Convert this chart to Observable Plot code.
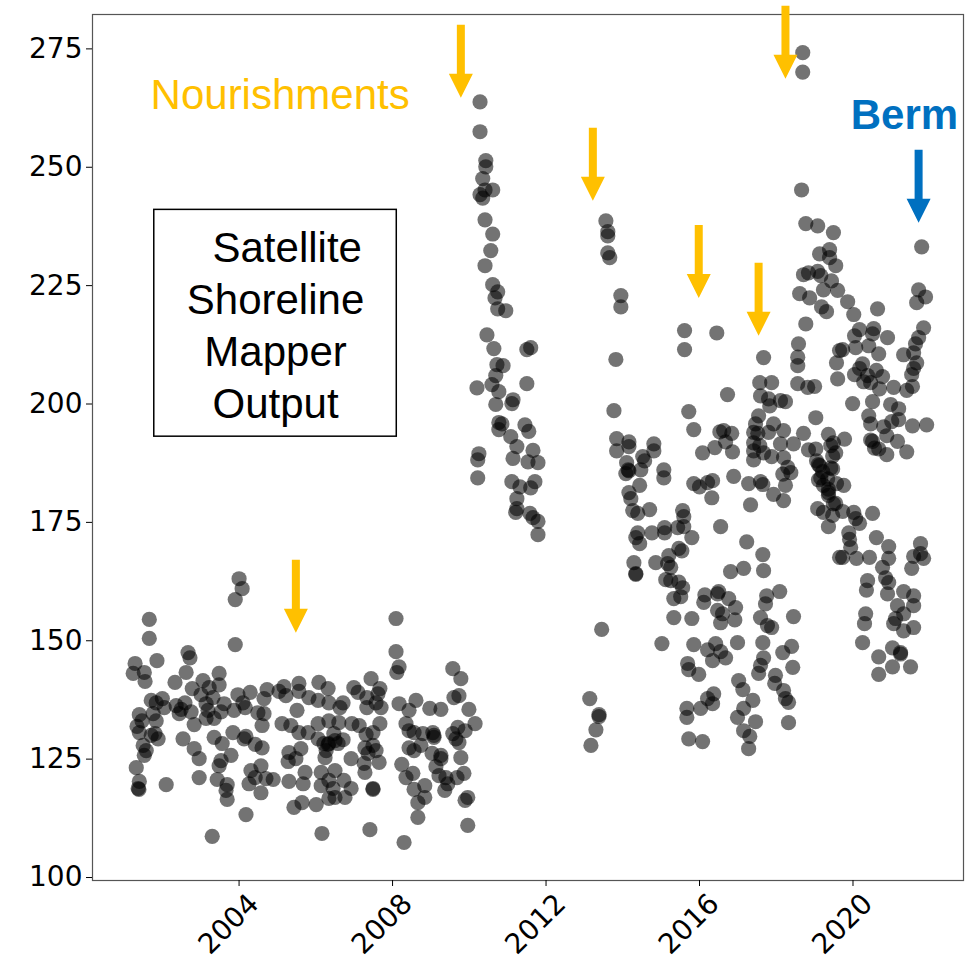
<!DOCTYPE html>
<html><head><meta charset="utf-8">
<script src="https://cdn.jsdelivr.net/npm/d3@7"></script>
<script src="https://cdn.jsdelivr.net/npm/@observablehq/plot@0.6"></script>
<style>body{margin:0;background:#fff}#chart{width:971px;height:964px}</style>
</head><body><div id="chart"></div>
<script>
// [decimal year, shoreline position]
const pts2001_2004 = [[2004.00,163.1],[2004.08,161.0],[2003.90,158.7],[2003.90,149.2],[2001.66,154.5],[2001.66,150.5],[2001.86,145.8],[2002.67,147.5],[2002.72,146.4],[2001.29,145.2],[2001.24,143.1],[2001.53,143.3],[2001.55,141.4],[2002.62,143.3],[2003.48,143.1],[2003.48,140.7],[2002.33,141.2],[2003.06,141.6],[2002.78,139.9],[2003.22,140.1],[2003.01,138.6],[2003.32,138.0],[2003.97,138.6],[2004.29,139.1],[2004.73,139.7],[2004.65,137.8],[2001.71,137.4],[2002.00,137.8],[2001.84,136.9],[2002.05,135.9],[2002.36,136.3],[2002.49,135.5],[2002.75,135.0],[2002.59,136.9],[2003.14,136.7],[2003.19,135.3],[2003.61,136.7],[2003.53,135.0],[2004.10,136.9],[2004.16,135.9],[2003.87,135.3],[2001.40,134.4],[2001.47,133.1],[2001.34,131.9],[2001.76,134.6],[2001.84,133.1],[2002.44,134.6],[2003.14,133.6],[2003.35,133.6],[2002.83,132.3],[2004.49,134.8],[2004.65,134.6],[2004.60,132.1],[2001.40,130.6],[2001.71,130.0],[2001.89,129.3],[2001.81,130.4],[2003.84,130.6],[2004.18,129.8],[2004.13,129.3],[2002.54,129.3],[2003.35,129.6],[2003.56,128.3],[2004.42,128.1],[2004.60,127.4],[2001.50,127.9],[2001.58,126.8],[2001.53,125.8],[2002.83,127.2],[2002.96,125.1],[2003.79,125.8],[2003.53,124.7],[2003.48,123.6],[2001.32,123.2],[2004.31,122.6],[2004.57,123.6],[2004.42,121.1],[2004.70,120.9],[2004.26,119.8],[2001.40,120.3],[2001.37,118.8],[2001.39,118.6],[2002.10,119.6],[2002.96,121.1],[2003.43,120.7],[2003.69,119.6],[2003.66,118.4],[2003.69,116.5],[2004.57,117.9],[2004.18,113.3],[2003.30,108.7]];
const pts2005_2010 = [[2008.09,154.7],[2008.09,147.7],[2008.17,144.5],[2008.11,143.3],[2009.57,144.1],[2009.78,142.0],[2007.44,142.0],[2006.08,141.2],[2006.32,139.9],[2005.56,141.0],[2005.56,139.3],[2005.04,139.3],[2005.17,140.3],[2005.22,138.4],[2005.82,138.0],[2006.06,137.4],[2006.34,136.9],[2006.71,136.9],[2006.63,135.9],[2006.99,140.1],[2007.10,139.1],[2007.33,138.0],[2007.67,139.9],[2007.62,138.8],[2007.57,136.9],[2007.70,135.9],[2007.33,135.9],[2009.60,138.0],[2009.73,138.4],[2009.99,135.5],[2008.61,137.4],[2008.17,136.7],[2008.43,135.3],[2009.26,135.5],[2008.97,135.7],[2005.51,135.3],[2005.12,132.5],[2005.35,132.1],[2005.56,130.6],[2005.80,130.6],[2006.06,132.5],[2006.34,133.1],[2006.60,132.7],[2006.94,132.5],[2007.13,132.1],[2007.31,130.2],[2007.49,130.6],[2007.67,132.5],[2006.06,129.3],[2006.21,128.3],[2006.32,128.1],[2006.47,130.4],[2006.50,128.9],[2006.71,129.1],[2008.35,132.5],[2008.43,131.0],[2008.56,130.6],[2008.79,130.4],[2009.05,130.6],[2009.08,130.0],[2009.57,130.4],[2009.70,131.7],[2009.65,129.3],[2009.89,131.0],[2010.15,132.5],[2009.73,128.5],[2008.43,127.4],[2008.56,126.8],[2008.74,127.9],[2009.08,129.6],[2009.03,126.2],[2009.26,125.8],[2007.49,127.9],[2007.57,126.8],[2007.28,127.4],[2007.36,126.2],[2007.65,124.3],[2007.26,124.1],[2007.28,122.2],[2006.27,126.8],[2006.24,125.3],[2006.58,128.3],[2006.34,128.3],[2006.92,125.1],[2005.30,126.4],[2005.28,124.5],[2005.61,127.2],[2005.48,125.1],[2008.24,123.9],[2008.35,121.1],[2008.53,122.0],[2008.56,118.6],[2008.84,119.4],[2008.84,116.9],[2008.66,115.8],[2009.13,123.4],[2009.26,125.1],[2009.21,121.5],[2009.39,121.1],[2009.44,119.8],[2009.36,118.4],[2009.78,125.3],[2009.86,122.0],[2009.68,121.1],[2009.96,116.9],[2009.89,116.3],[2004.89,120.7],[2005.30,120.3],[2005.67,119.8],[2005.72,122.2],[2006.14,122.2],[2006.50,122.6],[2006.14,119.4],[2006.34,120.5],[2006.45,118.8],[2006.73,120.5],[2006.92,118.8],[2006.76,116.9],[2006.50,116.9],[2006.34,116.7],[2007.49,118.8],[2007.49,118.6],[2005.64,115.8],[2005.43,114.8],[2006.01,115.4],[2008.66,112.7],[2007.41,110.1],[2006.16,109.3],[2008.30,107.4],[2009.96,111.0]];
const pts2010_2012 = [[2010.28,263.8],[2010.28,257.5],[2010.43,251.4],[2010.43,250.1],[2010.35,247.6],[2010.41,245.2],[2010.61,245.2],[2010.28,244.2],[2010.35,243.5],[2010.41,238.9],[2010.61,235.9],[2010.56,232.4],[2010.41,229.2],[2010.61,225.2],[2010.74,223.7],[2010.67,222.4],[2010.74,220.1],[2010.95,219.7],[2010.46,214.6],[2010.64,211.7],[2011.50,211.5],[2011.60,211.9],[2010.72,208.3],[2010.88,208.1],[2010.69,206.0],[2010.20,203.4],[2010.59,204.1],[2010.77,202.6],[2011.50,204.3],[2010.69,199.9],[2011.11,200.1],[2011.14,200.9],[2010.77,196.1],[2010.85,195.8],[2010.77,194.6],[2011.45,195.6],[2011.55,194.2],[2011.08,193.1],[2011.24,191.0],[2010.25,189.5],[2010.22,188.2],[2010.22,184.4],[2011.14,188.5],[2011.66,190.2],[2011.53,187.8],[2011.79,187.6],[2011.11,183.6],[2011.32,182.5],[2011.71,183.6],[2011.60,182.3],[2011.24,180.0],[2011.24,177.9],[2011.21,177.1],[2011.58,176.9],[2011.66,176.0],[2011.79,175.2],[2011.79,172.4]];
const pts2013_2016 = [[2013.56,238.7],[2013.61,236.4],[2013.61,235.5],[2013.61,231.9],[2013.66,230.9],[2013.95,222.9],[2013.95,220.5],[2013.82,209.4],[2015.61,215.5],[2015.61,211.5],[2016.45,215.0],[2013.14,137.8],[2013.38,134.4],[2013.38,134.0],[2013.30,131.2],[2013.17,127.9],[2013.45,152.4],[2013.77,198.6],[2015.72,198.4],[2015.85,194.6],[2016.53,194.1],[2013.84,192.7],[2013.84,190.1],[2014.16,192.0],[2014.16,191.0],[2014.81,191.6],[2014.81,190.1],[2014.52,188.9],[2014.57,188.0],[2014.10,187.6],[2014.16,185.9],[2014.14,186.1],[2014.08,185.3],[2014.47,186.1],[2014.44,182.8],[2015.07,186.1],[2015.07,184.4],[2016.08,189.7],[2016.40,190.8],[2015.85,183.2],[2016.00,182.5],[2016.21,183.4],[2016.34,183.8],[2016.32,180.2],[2014.16,181.3],[2014.21,180.0],[2014.26,177.5],[2014.39,176.9],[2014.70,177.7],[2015.56,177.5],[2015.59,176.2],[2015.59,174.1],[2015.80,171.8],[2015.43,173.9],[2014.39,172.8],[2014.34,171.8],[2014.44,170.5],[2014.76,172.8],[2015.09,173.9],[2015.09,172.8],[2016.55,174.1],[2015.46,169.5],[2015.54,169.0],[2015.20,168.0],[2015.17,166.3],[2015.25,165.5],[2014.86,166.5],[2014.29,166.5],[2014.34,164.0],[2014.34,164.2],[2015.12,162.9],[2015.25,162.7],[2015.46,162.4],[2015.56,161.2],[2015.51,159.3],[2015.33,158.9],[2016.14,159.7],[2016.11,158.1],[2016.47,159.9],[2016.47,156.4],[2015.33,154.9],[2015.80,154.7],[2015.02,149.4],[2015.85,149.2],[2016.21,148.1],[2016.42,149.4],[2016.34,145.8],[2015.69,145.2],[2015.72,143.9],[2015.98,142.9],[2015.67,135.7],[2015.67,133.8],[2016.03,135.7],[2016.21,137.8],[2016.37,138.8],[2016.34,136.7],[2015.72,129.3],[2016.08,128.7]];
const pts2016_2019 = [[2018.77,216.9],[2018.58,212.7],[2017.67,209.8],[2018.56,209.9],[2018.56,208.1],[2019.65,211.3],[2019.57,208.7],[2019.60,205.3],[2016.73,202.0],[2017.57,204.5],[2017.88,204.5],[2017.59,201.7],[2017.80,201.1],[2017.83,199.6],[2018.11,200.7],[2018.24,200.5],[2018.56,204.3],[2018.82,203.5],[2019.00,203.7],[2019.03,197.1],[2017.54,197.5],[2017.46,195.8],[2017.93,195.8],[2018.19,194.4],[2017.41,194.0],[2017.52,193.8],[2017.80,194.0],[2016.63,194.4],[2016.84,193.8],[2016.68,192.0],[2016.86,189.9],[2017.41,191.8],[2017.57,191.2],[2017.67,189.7],[2017.41,190.1],[2017.41,188.2],[2017.88,188.9],[2018.11,191.6],[2018.45,191.6],[2018.71,193.8],[2018.84,190.3],[2019.03,190.5],[2019.36,193.6],[2019.42,191.2],[2019.55,189.7],[2019.49,191.8],[2018.19,188.7],[2018.30,186.6],[2018.17,185.2],[2018.38,185.5],[2018.24,182.8],[2018.19,179.6],[2019.10,187.2],[2019.21,185.7],[2019.10,184.0],[2019.34,184.2],[2019.47,186.3],[2016.89,184.7],[2017.28,183.2],[2017.59,183.6],[2017.65,183.0],[2017.93,180.9],[2017.33,178.7],[2019.23,182.8],[2019.36,181.3],[2019.49,178.9],[2019.08,177.9],[2019.23,177.1],[2019.36,174.1],[2017.23,170.9],[2017.65,168.2],[2017.67,164.8],[2016.81,164.6],[2017.15,165.3],[2019.65,167.6],[2016.50,160.4],[2016.76,158.9],[2016.94,157.0],[2016.60,155.7],[2016.55,153.8],[2016.92,154.4],[2017.75,159.5],[2018.09,160.4],[2017.72,157.8],[2017.77,153.2],[2017.88,152.8],[2017.59,154.9],[2018.45,155.1],[2017.65,149.6],[2017.59,144.8],[2017.54,143.1],[2017.67,146.4],[2016.99,149.6],[2016.55,147.7],[2016.68,146.4],[2018.40,148.8],[2018.17,147.5],[2018.43,144.4],[2017.98,142.7],[2017.96,141.0],[2017.02,141.6],[2017.13,139.7],[2017.15,135.7],[2016.99,133.8],[2017.39,137.4],[2017.46,132.9],[2017.15,131.0],[2017.31,129.8],[2017.28,127.2],[2018.19,139.5],[2018.24,137.8],[2018.32,137.0],[2018.32,132.7]];
const pts2019_2022 = [[2018.66,245.2],[2018.69,274.2],[2018.69,270.1],[2021.79,233.2],[2018.77,238.1],[2019.08,237.6],[2019.49,236.2],[2019.13,231.7],[2019.39,232.6],[2019.39,230.9],[2019.55,229.2],[2018.71,227.3],[2018.84,227.7],[2019.08,228.0],[2019.16,227.1],[2019.44,226.0],[2019.23,224.1],[2019.60,224.0],[2018.61,223.3],[2018.87,222.4],[2019.86,221.6],[2019.18,220.5],[2019.31,219.5],[2020.02,218.9],[2021.71,224.1],[2021.89,222.6],[2021.66,221.4],[2020.64,220.1],[2021.84,216.1],[2020.17,215.7],[2020.54,215.9],[2020.04,214.4],[2020.51,214.8],[2020.90,214.0],[2021.71,214.0],[2021.63,212.7],[2019.73,211.5],[2020.07,211.9],[2020.41,212.3],[2020.67,210.6],[2021.58,210.8],[2021.32,210.4],[2020.25,208.5],[2020.17,207.5],[2020.04,206.2],[2020.38,206.0],[2020.28,204.7],[2020.61,207.1],[2021.66,208.7],[2021.58,207.5],[2021.53,206.2],[2020.77,205.8],[2020.69,203.2],[2020.46,204.5],[2021.06,203.5],[2021.40,202.9],[2021.55,203.7],[2019.99,200.1],[2020.51,200.5],[2020.98,199.9],[2021.19,199.0],[2020.41,197.5],[2020.46,195.8],[2020.80,195.2],[2021.01,196.3],[2021.19,196.7],[2021.55,195.4],[2021.92,195.6],[2019.78,192.6],[2020.46,192.4],[2020.56,190.7],[2020.88,193.3],[2020.88,189.3],[2021.16,192.1],[2021.40,189.9],[2019.05,188.0],[2020.51,192.1],[2020.67,190.5],[2019.47,189.0],[2019.13,187.0],[2019.16,184.4],[2019.42,186.5],[2019.76,182.8],[2019.57,183.2],[2019.36,182.0],[2019.36,180.7],[2019.55,179.0],[2019.47,176.5],[2019.73,177.3],[2020.02,177.1],[2020.07,175.8],[2020.17,174.8],[2020.51,176.9],[2019.89,172.8],[2019.91,171.4],[2019.94,169.7],[2019.73,167.6],[2020.09,167.4],[2020.43,167.6],[2020.61,171.8],[2020.93,169.9],[2020.93,167.4],[2021.76,170.5],[2021.76,168.4],[2021.58,167.8],[2021.84,167.4],[2021.53,165.3],[2020.77,165.5],[2020.85,163.3],[2020.93,162.3],[2020.38,162.7],[2020.35,160.7],[2020.90,159.9],[2021.32,160.4],[2021.58,159.5],[2021.58,157.4],[2021.16,157.4],[2020.33,155.7],[2020.30,153.6],[2021.32,155.7],[2021.11,154.7],[2021.06,153.6],[2021.32,152.1],[2021.58,152.8],[2020.25,149.6],[2020.67,146.6],[2021.03,148.5],[2021.24,147.5],[2021.24,147.2],[2021.03,144.5],[2021.50,144.5],[2020.67,142.9]];

const xTickYears = [2004, 2008, 2012, 2016, 2020];
const xTickLabels = ["2004", "2008", "2012", "2016", "2020"];
const yTicks = [100, 125, 150, 175, 200, 225, 250, 275];

// annotation arrows (year, value at arrow tip)
const nourishmentYears = [2005.48, 2009.78, 2013.22, 2015.98, 2017.54, 2018.24];
const nourishmentTips = [151.7, 264.7, 242.9, 222.4, 214.4, 268.7];
const bermYears = [2021.71];
const bermTips = [238.3];

const labelNourish = {text: "Nourishments", year: 2005.07, value: 265.1};
const labelBerm = {text: "Berm", year: 2021.34, value: 260.9};
const boxLines = ["\u00a0\u00a0Satellite", "Shoreline", "Mapper", "Output"];
const boxRange = {year1: 2001.79, year2: 2008.11, value1: 193.1, value2: 241.0, centerYear: 2004.95, centerValue: 217.1};

const points = [].concat(pts2001_2004, pts2005_2010, pts2010_2012, pts2013_2016, pts2016_2019, pts2019_2022)
  .map(([year, value]) => ({year, value}));
const nourish = nourishmentYears.map((year, i) => ({year, value: nourishmentTips[i]}));
const berm = bermYears.map((year, i) => ({year, value: bermTips[i]}));

const arrowSymbol = {
  draw(ctx) {
    ctx.moveTo(-4, -73); ctx.lineTo(4, -73); ctx.lineTo(4, -24); ctx.lineTo(12, -24);
    ctx.lineTo(0, 0); ctx.lineTo(-12, -24); ctx.lineTo(-4, -24); ctx.closePath();
  }
};

const sans = "Liberation Sans, Arial, sans-serif";
const tickFont = "DejaVu Sans, sans-serif";

const chart = Plot.plot({
  width: 971,
  height: 964,
  marginLeft: 92,
  marginRight: 8,
  marginTop: 14,
  marginBottom: 84,
  style: {background: "#fff", color: "#000"},
  x: {domain: [2000.18, 2022.88]},
  y: {domain: [99.37, 282.26]},
  marks: [
    Plot.frame({stroke: "#555", strokeWidth: 1.2}),
    Plot.axisY({ticks: yTicks, tickSize: 6, tickPadding: 4, fontSize: 28, fontFamily: tickFont, label: null, tickFormat: d => String(d)}),
    Plot.axisX({ticks: xTickYears, tickSize: 6, tickFormat: () => "", label: null}),
    Plot.text(xTickYears, {x: d => d, text: (d, i) => xTickLabels[i], frameAnchor: "bottom", dy: 50, dx: -4, rotate: -45, fontSize: 28, fontFamily: tickFont, fill: "#000"}),
    Plot.dot(points, {x: "year", y: "value", r: 7.6, fill: "#000", fillOpacity: 0.55, stroke: "none"}),
    Plot.dot(nourish, {x: "year", y: "value", symbol: arrowSymbol, fill: "#FFC000", stroke: "none"}),
    Plot.dot(berm, {x: "year", y: "value", symbol: arrowSymbol, fill: "#0070C0", stroke: "none"}),
    Plot.text([labelNourish], {x: "year", y: "value", text: "text", fill: "#FFC000", fontSize: 42, fontFamily: sans}),
    Plot.text([labelBerm], {x: "year", y: "value", text: "text", fill: "#0070C0", fontSize: 42, fontWeight: "bold", fontFamily: sans}),
    Plot.rect([boxRange], {x1: "year1", x2: "year2", y1: "value1", y2: "value2", fill: "none", stroke: "#000", strokeWidth: 1.5}),
    Plot.text([boxRange], {x: "centerYear", y: "centerValue", text: () => boxLines.join("\n"), lineHeight: 1.24, lineAnchor: "middle", fontSize: 42, fontFamily: sans, fill: "#000"})
  ]
});
document.getElementById("chart").appendChild(chart);
</script>
</body></html>
